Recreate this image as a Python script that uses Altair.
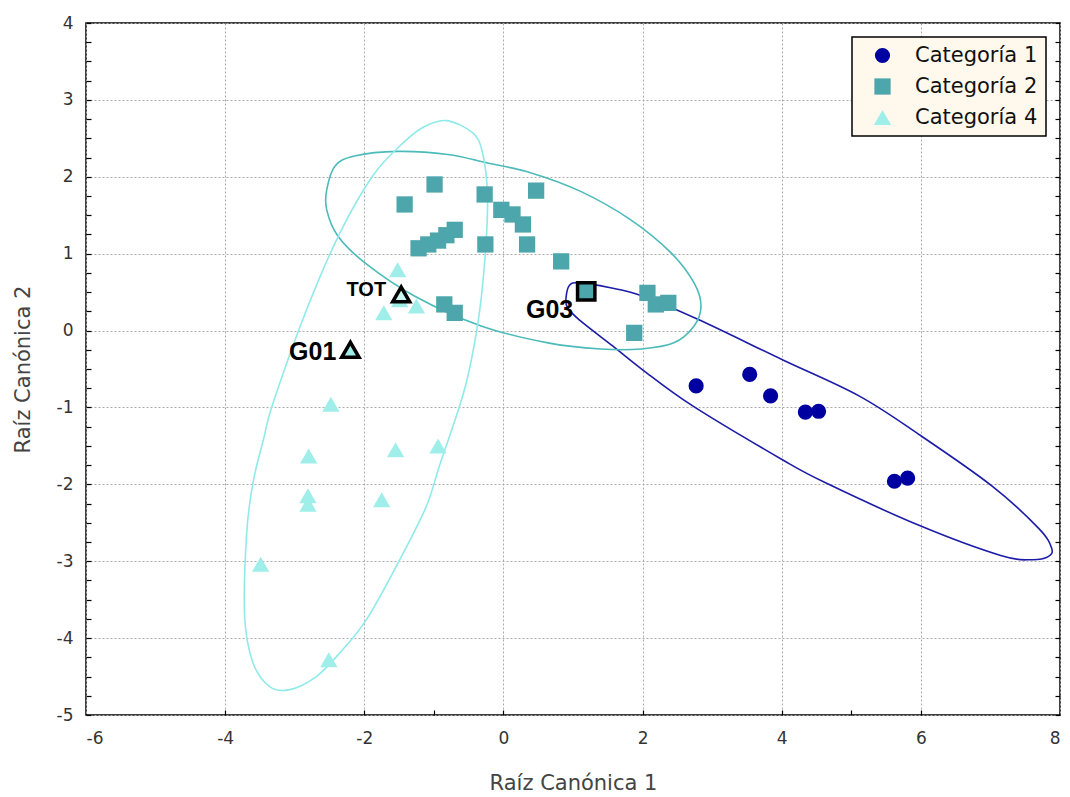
import altair as alt
import pandas as pd

# ---- data ----
cat1_x = [2.77, 3.54, 3.84, 4.34, 4.53, 5.62, 5.81]
cat1_y = [-0.72, -0.57, -0.85, -1.06, -1.05, -1.96, -1.92]

cat2_x = [-0.99, -1.42, -0.27, 0.47, -0.03, 0.13, 0.28, 0.34, -0.26, 0.83,
          -1.22, -1.08, -0.94, -0.82, -0.70, -0.85, -0.70, 2.07, 2.19, 2.37, 1.88]
cat2_y = [1.90, 1.64, 1.77, 1.82, 1.57, 1.51, 1.38, 1.12, 1.12, 0.90,
          1.07, 1.12, 1.17, 1.24, 1.31, 0.34, 0.23, 0.49, 0.34, 0.36, -0.03]

cat4_x = [-1.52, -1.72, -1.25, -1.49, -2.48, -2.80, -1.55, -0.94, -2.81, -2.81,
          -1.75, -3.49, -2.51]
cat4_y = [0.79, 0.23, 0.32, 0.40, -0.96, -1.63, -1.55, -1.50, -2.15, -2.26,
          -2.20, -3.04, -4.28]

categories = ["Categoría 1", "Categoría 2", "Categoría 4"]

# group centroids
cent_labels = ["G01", "G03", "TOT"]
cent_x = [-2.20, 1.19, -1.47]
cent_y = [-0.25, 0.51, 0.47]

# ellipse outlines (points read along each drawn ellipse)
ell1_x = [0.90, 0.95, 1.09, 1.52, 2.00, 2.81, 4.01, 5.11, 5.97, 7.02, 7.69, 7.88,
          7.83, 7.59, 7.16, 5.99, 4.63, 4.01, 2.72, 2.00, 1.57, 1.09, 0.92]
ell1_y = [0.43, 0.59, 0.62, 0.56, 0.45, 0.14, -0.38, -0.85, -1.35, -2.02, -2.57, -2.83,
          -2.94, -2.98, -2.93, -2.54, -1.98, -1.68, -0.98, -0.51, -0.20, 0.14, 0.30]

ell2_x = [-2.54, -2.42, -2.14, -1.52, -0.80, -0.23, 0.40, 1.11, 1.83, 2.41, 2.74,
          2.84, 2.74, 2.45, 1.98, 1.40, 0.64, -0.32, -1.28, -1.99, -2.38, -2.54]
ell2_y = [1.83, 2.14, 2.27, 2.33, 2.29, 2.18, 2.05, 1.81, 1.44, 1.01, 0.62,
          0.32, 0.06, -0.16, -0.24, -0.24, -0.16, 0.06, 0.45, 0.88, 1.23, 1.57]

ell4_x = [-0.82, -0.44, -0.30, -0.23, -0.25, -0.34, -0.49, -0.63, -0.92, -1.11,
          -1.49, -1.97, -2.35, -2.69, -3.07, -3.36, -3.60, -3.72, -3.69, -3.60,
          -3.45, -3.31, -2.83, -2.35, -1.88, -1.49, -1.16]
ell4_y = [2.73, 2.57, 2.31, 1.79, 1.14, 0.27, -0.51, -0.98, -1.76, -2.29,
          -2.98, -3.76, -4.19, -4.50, -4.67, -4.63, -4.32, -3.72, -2.63, -1.98,
          -1.42, -0.94, 0.27, 1.27, 2.01, 2.40, 2.64]

x_ticks_major = [-6, -4, -2, 0, 2, 4, 6, 8]
x_ticks_small = [-4, -2, -1, 0, 2, 4, 5, 6]
y_ticks_major = [-5, -4, -3, -2, -1, 0, 1, 2, 3, 4]
y_ticks_small = [v / 4 for v in range(-20, 17)]

# ---- tables ----
pts = pd.DataFrame({
    "x": cat1_x + cat2_x + cat4_x,
    "y": cat1_y + cat2_y + cat4_y,
    "cat": [categories[0]] * len(cat1_x) + [categories[1]] * len(cat2_x) + [categories[2]] * len(cat4_x),
})

cent = pd.DataFrame({"label": cent_labels, "x": cent_x, "y": cent_y})

pt_colors = ["#0000A0", "#4DA6AB", "#A0EEE9"]
ell_colors = ["#1C1CA8", "#4DBABA", "#90EAEA"]

XS = alt.Scale(domain=[-6, 8], nice=False, zero=False)
YS = alt.Scale(domain=[-5, 4], nice=False, zero=False)
FONT = "DejaVu Sans"
LFONT = "Liberation Sans"

grid_axis_x = alt.Axis(values=x_ticks_major, grid=True, gridColor="#AAAAAA", gridDash=[2, 2],
                       gridWidth=1, ticks=False, domain=False, labelFont=FONT, labelFontSize=17,
                       labelColor="#333333", labelPadding=15, titleFont=FONT, titleFontSize=21,
                       titleFontWeight="normal", titleColor="#444444", titlePadding=26,
                       labelExpr="'' + datum.value")
grid_axis_y = alt.Axis(values=y_ticks_major, grid=True, gridColor="#AAAAAA", gridDash=[2, 2],
                       gridWidth=1, ticks=False, domain=False, labelFont=FONT, labelFontSize=17,
                       labelColor="#333333", labelPadding=13, titleFont=FONT, titleFontSize=21,
                       titleFontWeight="normal", titleColor="#444444", titlePadding=23,
                       labelExpr="'' + datum.value")


def ellipse(xs, ys, color, with_axes):
    df = pd.DataFrame({"x": xs, "y": ys, "i": list(range(len(xs)))})
    if with_axes:
        ex = alt.X("x:Q", scale=XS, axis=grid_axis_x, title="Raíz Canónica 1")
        ey = alt.Y("y:Q", scale=YS, axis=grid_axis_y, title="Raíz Canónica 2")
    else:
        ex = alt.X("x:Q", scale=XS, axis=None)
        ey = alt.Y("y:Q", scale=YS, axis=None)
    return alt.Chart(df).mark_line(interpolate="cardinal-closed", strokeWidth=1.6, color=color).encode(
        x=ex, y=ey, order="i:Q"
    )

ell_layers = [
    ellipse(ell1_x, ell1_y, ell_colors[0], True),
    ellipse(ell2_x, ell2_y, ell_colors[1], False),
    ellipse(ell4_x, ell4_y, ell_colors[2], False),
]

tick_x = alt.Axis(values=x_ticks_small, grid=False, labels=False, domain=False, ticks=True,
                  tickSize=5, tickColor="#000000", tickWidth=1.2, offset=-5, orient="bottom")
tick_yl = alt.Axis(values=y_ticks_small, grid=False, labels=False, domain=False, ticks=True,
                   tickSize=5, tickColor="#000000", tickWidth=1.2, offset=-5, orient="left")
tick_yr = alt.Axis(values=y_ticks_small, grid=False, labels=False, domain=False, ticks=True,
                   tickSize=5, tickColor="#000000", tickWidth=1.2, offset=-5, orient="right")

leg = alt.Legend(title=None)
points = alt.Chart(pts).mark_point(filled=True, opacity=1, strokeWidth=0).encode(
    x=alt.X("x:Q", scale=XS, axis=tick_x, title=None),
    y=alt.Y("y:Q", scale=YS, axis=tick_yl, title=None),
    color=alt.Color("cat:N", scale=alt.Scale(domain=categories, range=pt_colors), legend=leg),
    shape=alt.Shape("cat:N", scale=alt.Scale(domain=categories, range=["circle", "square", "triangle-up"]),
                    legend=leg),
    size=alt.Size("cat:N", scale=alt.Scale(domain=categories, range=[230, 300, 300]), legend=leg),
)

def centroid(name, shape, fill, size):
    return alt.Chart(cent).transform_filter(alt.datum.label == name).mark_point(
        shape=shape, filled=True, fill=fill, opacity=1, stroke="#000000", strokeWidth=3.5, size=size
    ).encode(
        x=alt.X("x:Q", scale=XS, axis=None),
        y=alt.Y("y:Q", scale=YS, axis=None),
    )

cent_g01 = centroid("G01", "triangle-up", "#A0EEE9", 300)
cent_g03 = centroid("G03", "square", "#4DA6AB", 300)
cent_tot = alt.Chart(cent).transform_filter(alt.datum.label == "TOT").mark_point(
    shape="triangle-up", filled=True, fill="#C8F6F2", opacity=1, stroke="#000000", strokeWidth=3.5, size=290
).encode(
    x=alt.X("x:Q", scale=XS, axis=None),
    y=alt.Y("y:Q", scale=YS, axis=tick_yr, title=None),
)

def label(name, dx, dy, fs):
    return alt.Chart(cent).transform_filter(alt.datum.label == name).mark_text(
        align="right", baseline="middle", dx=dx, dy=dy, fontSize=fs, fontWeight="bold",
        font=LFONT, color="#000000"
    ).encode(
        x=alt.X("x:Q", scale=XS, axis=None),
        y=alt.Y("y:Q", scale=YS, axis=None),
        text="label:N",
    )

labels = [label("G01", -14, 2, 25), label("G03", -13, 19, 25), label("TOT", -15, -4, 20)]

chart = alt.layer(*ell_layers, points, cent_tot, cent_g01, cent_g03, *labels).resolve_axis(
    x="independent", y="independent"
).properties(
    width=974, height=692,
    padding={"left": 78, "top": 15, "right": 2, "bottom": 80},
    autosize=alt.AutoSizeParams(type="none"),
    background="white",
).configure_view(
    stroke="#000000", strokeWidth=1.5
).configure_legend(
    orient="top-right", offset=14, padding=8, fillColor="#FFF8EC", strokeColor="#000000",
    strokeWidth=1.5, labelFont=FONT, labelFontSize=21, labelColor="#111111",
    rowPadding=9, symbolStrokeWidth=0, symbolOffset=12, labelOffset=22, cornerRadius=0,
    titlePadding=0
)

chart.save("out.html", embed_options={"renderer": "svg", "actions": False})
